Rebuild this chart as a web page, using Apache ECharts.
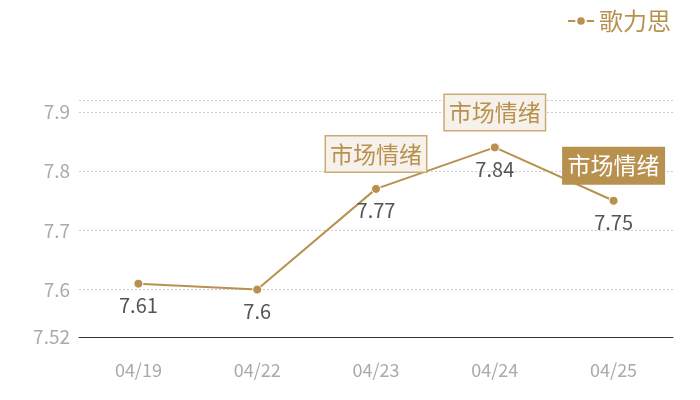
<!DOCTYPE html>
<html>
<head>
<meta charset="utf-8">
<script src="https://cdn.jsdelivr.net/npm/echarts@6/dist/echarts.min.js"></script>
<style>
  html, body { margin: 0; padding: 0; background: #fff; }
  #main { width: 700px; height: 400px; }
</style>
</head>
<body>
<div id="main"></div>
<script>
// data
const dates = ['04/19', '04/22', '04/23', '04/24', '04/25'];
const values = [7.61, 7.6, 7.77, 7.84, 7.75];
const seriesName = '歌力思';
const tagText = '市场情绪';
const tagIdx = [2, 3, 4];      // points with a mood tag
const activeIdx = 4;           // tag drawn filled

const gold = '#b8914f';
const font = '"Noto Sans CJK SC", "Open Sans", sans-serif';

const chart = echarts.init(document.getElementById('main'));

const tags = tagIdx.map(function (i) {
  const on = i === activeIdx;
  return {
    coord: [i, values[i]],
    label: {
      backgroundColor: on ? gold : '#f6f1ea',
      borderColor: on ? gold : '#cbab74',
      color: on ? '#fff' : gold
    }
  };
});

const option = {
  textStyle: { fontFamily: font },
  legend: {
    right: 24,
    top: 4,
    itemWidth: 26,
    itemHeight: 12,
    itemGap: 4,
    textStyle: { color: gold, fontSize: 24, fontFamily: font },
    data: [seriesName]
  },
  grid: { left: 79, right: 27, top: 100, bottom: 63 },
  xAxis: {
    type: 'category',
    data: dates,
    axisLine: { lineStyle: { color: '#333', width: 1 } },
    axisTick: { show: false },
    axisLabel: { color: '#aaa', fontSize: 18, margin: 24, fontFamily: font }
  },
  yAxis: {
    type: 'value',
    min: 7.52,
    max: 7.92,
    axisLine: { show: false },
    axisTick: { show: false },
    axisLabel: { color: '#aaa', fontSize: 19, margin: 9, showMaxLabel: false, fontFamily: font },
    splitLine: { lineStyle: { color: '#ccc', type: [2, 2] } }
  },
  series: [{
    name: seriesName,
    type: 'line',
    data: values,
    symbol: 'circle',
    symbolSize: 9,
    lineStyle: { color: gold, width: 2 },
    itemStyle: { color: gold, borderColor: '#fff', borderWidth: 1 },
    label: {
      show: true,
      position: 'bottom',
      distance: 7,
      color: '#555',
      fontSize: 20,
      fontFamily: font
    },
    markPoint: {
      symbol: 'rect',
      symbolSize: 0,
      label: {
        show: true,
        formatter: tagText,
        position: 'inside',
        offset: [0, -35],
        fontSize: 23,
        fontFamily: font,
        padding: [4, 4, 3, 4],
        borderWidth: 1.5,
        lineHeight: 28
      },
      data: tags
    }
  }]
};

chart.setOption(option);
</script>
</body>
</html>
